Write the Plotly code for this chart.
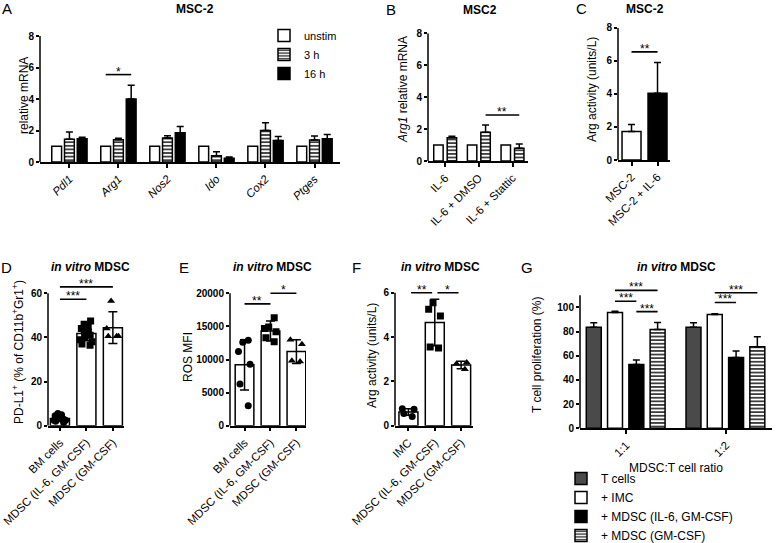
import plotly.graph_objects as go

W, H = 776, 543
FONT = "Liberation Sans, Arial, Helvetica, sans-serif"

# ---------------- data ----------------
# A  MSC-2 relative mRNA
a_genes = ["Pdl1", "Arg1", "Nos2", "Ido", "Cox2", "Ptges"]
a_series = ["unstim", "3 h", "16 h"]
a_unstim = [1.0, 1.0, 1.0, 1.0, 1.0, 1.0]
a_3h = [1.45, 1.42, 1.52, 0.40, 2.00, 1.40]
a_3h_err = [0.45, 0.08, 0.15, 0.25, 0.50, 0.25]
a_16h = [1.47, 4.00, 1.85, 0.24, 1.37, 1.48]
a_16h_err = [0.10, 0.87, 0.40, 0.08, 0.25, 0.27]

# B  MSC2 Arg1 relative mRNA
b_cats = ["IL-6", "IL-6 + DMSO", "IL-6 + Stattic"]
b_ctrl = [1.0, 1.0, 1.0]
b_treat = [1.45, 1.80, 0.80]
b_treat_err = [0.10, 0.45, 0.27]

# C  MSC-2 Arg activity
c_cats = ["MSC-2", "MSC-2 + IL-6"]
c_vals = [1.73, 4.03]
c_err = [0.42, 1.87]

# D  PD-L1+
d_cats = ["BM cells", "MDSC (IL-6, GM-CSF)", "MDSC (GM-CSF)"]
d_mean = [3.3, 41.8, 44.4]
d_sd = [1.3, 3.3, 7.2]
d_pts = [
    [1.5, 2.0, 2.5, 3.0, 3.0, 3.5, 4.0, 4.5, 5.0, 5.5, 2.5, 3.5],
    [47.5, 46.0, 45.0, 44.0, 43.5, 42.5, 42.0, 41.0, 40.0, 39.0, 38.0, 37.0, 36.5],
    [56.5, 40.5, 40.5, 40.5, 44.0],
]

# E  ROS MFI
e_cats = ["BM cells", "MDSC (IL-6, GM-CSF)", "MDSC (GM-CSF)"]
e_mean = [9200, 14300, 11200]
e_sd = [3800, 1500, 1800]
e_pts = [
    [12900, 12600, 11200, 9300, 6300, 3000],
    [16300, 14900, 14700, 14200, 13300, 12700],
    [13000, 12300, 9700, 9800],
]

# F  Arg activity
f_cats = ["IMC", "MDSC (IL-6, GM-CSF)", "MDSC (GM-CSF)"]
f_mean = [0.62, 4.66, 2.74]
f_sd = [0.15, 1.05, 0.17]
f_pts = [
    [0.76, 0.74, 0.42, 0.55],
    [5.55, 5.25, 4.95, 3.50, 3.55],
    [2.85, 2.80, 2.55],
]

# G  T cell proliferation
g_cats = ["1:1", "1:2"]
g_series = ["T cells", "+ IMC", "+ MDSC (IL-6, GM-CSF)", "+ MDSC (GM-CSF)"]
g_vals = [[83.5, 83.5], [95.7, 94.0], [52.8, 58.6], [81.7, 67.5]]
g_err = [[3.8, 3.8], [1.0, 0.6], [3.6, 5.2], [5.8, 8.2]]

# significance: (cat_i, series_i, cat_j, series_j, level, label)
sig_a = [(1, 0, 1, 2, 5.55, "*")]
sig_b = [(1, 1, 2, 1, 2.88, "**")]
sig_c = [(0, 0, 1, 0, 6.54, "**")]
sig_d = [(0, 0, 1, 0, 57.3, "***"), (0, 0, 2, 0, 62.9, "***")]
sig_e = [(0, 0, 1, 0, 18400, "**"), (1, 0, 2, 0, 20000, "*")]
sig_f = [(0, 0, 1, 0, 6.0, "**"), (1, 0, 2, 0, 6.0, "*")]
sig_g = [(0, 1, 0, 2, 105, "***"), (0, 1, 0, 3, 114, "***"), (0, 2, 0, 3, 96.4, "***"),
         (1, 1, 1, 2, 104, "***"), (1, 1, 1, 3, 112, "***")]

# ---------------- layout geometry (pixels) ----------------
panels = {
    "A": dict(n="", xpx=(40, 340), y0=162, amax=8, amax_px=36, rmax=8, xr=(-0.6, 5.52), yt=[0, 2, 4, 6, 8]),
    "B": dict(n="2", xpx=(428, 528), y0=161, amax=8, amax_px=33.3, rmax=8, xr=(-0.51, 2.46), yt=[0, 2, 4, 6, 8]),
    "C": dict(n="3", xpx=(618, 670), y0=160, amax=8, amax_px=27.7, rmax=8, xr=(-0.52, 1.48), yt=[0, 2, 4, 6, 8]),
    "D": dict(n="4", xpx=(48, 124), y0=425.7, amax=60, amax_px=293.3, rmax=66, xr=(-0.45, 2.42), yt=[0, 20, 40, 60]),
    "E": dict(n="5", xpx=(230, 306), y0=425.7, amax=20000, amax_px=293.3, rmax=21000, xr=(-0.56, 2.37),
              yt=[0, 5000, 10000, 15000, 20000]),
    "F": dict(n="6", xpx=(395, 473), y0=425.7, amax=6, amax_px=292.7, rmax=6.4, xr=(-0.51, 2.45), yt=[0, 2, 4, 6]),
    "G": dict(n="7", xpx=(580, 772), y0=428.3, amax=110, amax_px=295.2, rmax=116, xr=(-0.463, 1.462),
              yt=[0, 20, 40, 60, 80, 100]),
}

fig = go.Figure()
shapes = []
annotations = []

STRIPE = dict(shape="-", fgcolor="black", bgcolor="white", size=3.6, solidity=0.38)


def axes_of(p):
    n = panels[p]["n"]
    return "x" + n, "y" + n


def add_bar(p, cats, vals, err, fill, width, offset=None, pattern=False, name="", legend=None,
            up_only=True, cap=3.5, showlegend=False):
    xa, ya = axes_of(p)
    marker = dict(color=fill, line=dict(color="black", width=1.5))
    if pattern:
        marker["pattern"] = STRIPE
    kw = {}
    if err is not None:
        if up_only:
            kw["error_y"] = dict(type="data", symmetric=False, array=err, arrayminus=[0] * len(err),
                                 color="black", thickness=1.5, width=cap)
        else:
            kw["error_y"] = dict(type="data", array=err, color="black", thickness=1.5, width=cap)
    if offset is not None:
        kw["offset"] = offset
    if legend is not None:
        kw["legend"] = legend
    fig.add_trace(go.Bar(x=cats, y=vals, xaxis=xa, yaxis=ya, marker=marker, width=width, name=name,
                         showlegend=showlegend, **kw))


def add_points(p, cat, pts, symbol):
    xa, ya = axes_of(p)
    fig.add_trace(go.Box(x=[cat] * len(pts), y=pts, xaxis=xa, yaxis=ya, boxpoints="all", jitter=1.0,
                         pointpos=0, width=0.55, fillcolor="rgba(0,0,0,0)",
                         line=dict(color="rgba(0,0,0,0)", width=0),
                         marker=dict(color="black", size=7, symbol=symbol), showlegend=False))


def add_sig(p, sigs, offsets, width, inset=0.0):
    xa, ya = axes_of(p)
    for ci, si, cj, sj, level, label in sigs:
        x0 = ci + offsets[si] + width / 2 + inset
        x1 = cj + offsets[sj] + width / 2 - inset
        shapes.append(dict(type="line", xref=xa, yref=ya, x0=x0, x1=x1, y0=level, y1=level,
                           line=dict(color="black", width=1.6)))
        annotations.append(dict(xref=xa, yref=ya, x=(x0 + x1) / 2, y=level, text=label, showarrow=False,
                                yanchor="bottom", yshift=-6, font=dict(size=12, color="black", family=FONT)))


# ---- A ----
a_w = 0.2
a_off = [-0.36, -0.10, 0.16]
add_bar("A", a_genes, a_unstim, None, "white", a_w, a_off[0], name=a_series[0], legend="legend", showlegend=True)
add_bar("A", a_genes, a_3h, a_3h_err, "white", a_w, a_off[1], pattern=True, name=a_series[1], legend="legend",
        showlegend=True)
add_bar("A", a_genes, a_16h, a_16h_err, "black", a_w, a_off[2], name=a_series[2], legend="legend", showlegend=True)
add_sig("A", sig_a, a_off, a_w)

# ---- B ----
b_w = 0.28
b_off = [-0.34, 0.06]
add_bar("B", b_cats, b_ctrl, None, "white", b_w, b_off[0], name="control")
add_bar("B", b_cats, b_treat, b_treat_err, "white", b_w, b_off[1], pattern=True, name="treated")
add_sig("B", sig_b, b_off, b_w)

# ---- C ----
c_w = 0.73
add_bar("C", c_cats, c_vals, c_err, ["white", "black"], c_w, -c_w / 2, name="Arg activity")
add_sig("C", sig_c, [-c_w / 2], c_w)

# ---- D / E / F ----
syms = ["circle", "square", "triangle-up"]
for p, cats, mean, sd, pts, sig, inset in [("D", d_cats, d_mean, d_sd, d_pts, sig_d, 0.0),
                                           ("E", e_cats, e_mean, e_sd, e_pts, sig_e, 0.0),
                                           ("F", f_cats, f_mean, f_sd, f_pts, sig_f, 0.1)]:
    w = 0.72
    add_bar(p, cats, mean, sd, "white", w, -w / 2, up_only=False, cap=4.5, name=p)
    for i, c in enumerate(cats):
        add_points(p, c, pts[i], syms[i])
    add_sig(p, sig, [-w / 2], w, inset)

# ---- G ----
g_w = 0.15
g_off = [-0.40, -0.187, 0.027, 0.24]
g_fill = ["#4a4a4a", "white", "black", "white"]
for k in range(4):
    add_bar("G", g_cats, g_vals[k], g_err[k], g_fill[k], g_w, g_off[k], pattern=(k == 3), name=g_series[k],
            legend="legend2", showlegend=True)
add_sig("G", sig_g, g_off, g_w)

# ---------------- axes ----------------
tick_text = {
    "A": ["<i>%s</i>" % g for g in a_genes],
    "B": b_cats, "C": c_cats, "D": d_cats, "E": e_cats, "F": f_cats, "G": g_cats,
}
tick_vals = {"A": a_genes, "B": b_cats, "C": c_cats, "D": d_cats, "E": e_cats, "F": f_cats, "G": g_cats}

layout_axes = {}
for p, cfg in panels.items():
    n = cfg["n"]
    x0, x1 = cfg["xpx"]
    ppu = (cfg["y0"] - cfg["amax_px"]) / cfg["amax"]
    top_px = cfg["y0"] - cfg["rmax"] * ppu
    layout_axes["xaxis" + n] = dict(
        domain=[x0 / W, x1 / W], anchor="y" + n, type="category", range=list(cfg["xr"]),
        categoryorder="array", categoryarray=tick_vals[p], automargin=False,
        tickmode="array", tickvals=tick_vals[p], ticktext=tick_text[p],
        showline=True, linecolor="black", linewidth=1.5, ticks="outside", ticklen=4, tickwidth=1.5,
        tickcolor="black", tickangle=-45, tickfont=dict(size=11.5, color="black", family=FONT),
        showgrid=False, zeroline=False, fixedrange=True)
    layout_axes["yaxis" + n] = dict(
        domain=[1 - cfg["y0"] / H, 1 - top_px / H], anchor="x" + n, range=[0, cfg["rmax"]],
        automargin=False, tickformat="d",
        tickmode="array", tickvals=cfg["yt"], showline=False, ticks="outside", ticklen=3, tickwidth=1.5,
        tickcolor="black", tickfont=dict(size=10, color="black", family=FONT, weight="bold"),
        showgrid=False, zeroline=False, fixedrange=True)
    shapes.append(dict(type="line", xref="x%s domain" % n, yref="y" + n, x0=0, x1=0, y0=0, y1=cfg["amax"],
                       line=dict(color="black", width=1.5)))

layout_axes["xaxis7"]["title"] = dict(text="MDSC:T cell ratio", font=dict(size=12, color="black", family=FONT),
                                      standoff=6)


def txt(x, y, text, size=12, angle=0, **kw):
    annotations.append(dict(xref="paper", yref="paper", x=x / W, y=1 - y / H, text=text, showarrow=False,
                            textangle=angle, xanchor="center", yanchor="middle",
                            font=dict(size=size, color="black", family=FONT), **kw))


for letter, x, y in [("A", 7, 9), ("B", 391, 10), ("C", 581, 9),
                     ("D", 6, 267), ("E", 184, 267), ("F", 356, 267), ("G", 527, 267)]:
    txt(x, y, letter, size=15)

for x, y, t in [(195, 9, "<b>MSC-2</b>"), (480, 10, "<b>MSC2</b>"), (645, 9, "<b>MSC-2</b>"),
                (90, 267, "<b><i>in vitro</i> MDSC</b>"), (272, 267, "<b><i>in vitro</i> MDSC</b>"),
                (440, 267, "<b><i>in vitro</i> MDSC</b>"), (676, 267, "<b><i>in vitro</i> MDSC</b>")]:
    txt(x, y, t, size=12)

for x, y, t in [(24, 96, "relative mRNA"), (403, 90, "<i>Arg1</i> relative mRNA"),
                (592, 90, "Arg activity (units/L)"),
                (18, 352, "PD-L1<sup>+</sup> (% of CD11b<sup>+</sup>Gr1<sup>+</sup>)"),
                (188, 357, "ROS MFI"), (372, 356, "Arg activity (units/L)"),
                (537, 355, "T cell proliferation (%)")]:
    txt(x, y, t, size=12, angle=-90)

fig.update_layout(
    template="none",
    width=W, height=H, margin=dict(l=0, r=0, t=0, b=0, autoexpand=False), paper_bgcolor="white",
    plot_bgcolor="white",
    barmode="overlay", boxmode="overlay", font=dict(family=FONT, color="black"),
    shapes=shapes, annotations=annotations,
    legend=dict(x=264 / W, y=1 - 21 / H, xanchor="left", yanchor="top", bgcolor="rgba(0,0,0,0)",
                font=dict(size=11, color="black", family=FONT), tracegroupgap=0),
    legend2=dict(x=561 / W, y=1 - 464 / H, xanchor="left", yanchor="top", bgcolor="rgba(0,0,0,0)",
                 font=dict(size=12, color="black", family=FONT), tracegroupgap=0),
    **layout_axes,
)

fig.write_html("out.html", config={"displayModeBar": False},
               post_script="document.body.style.margin='0px';")
